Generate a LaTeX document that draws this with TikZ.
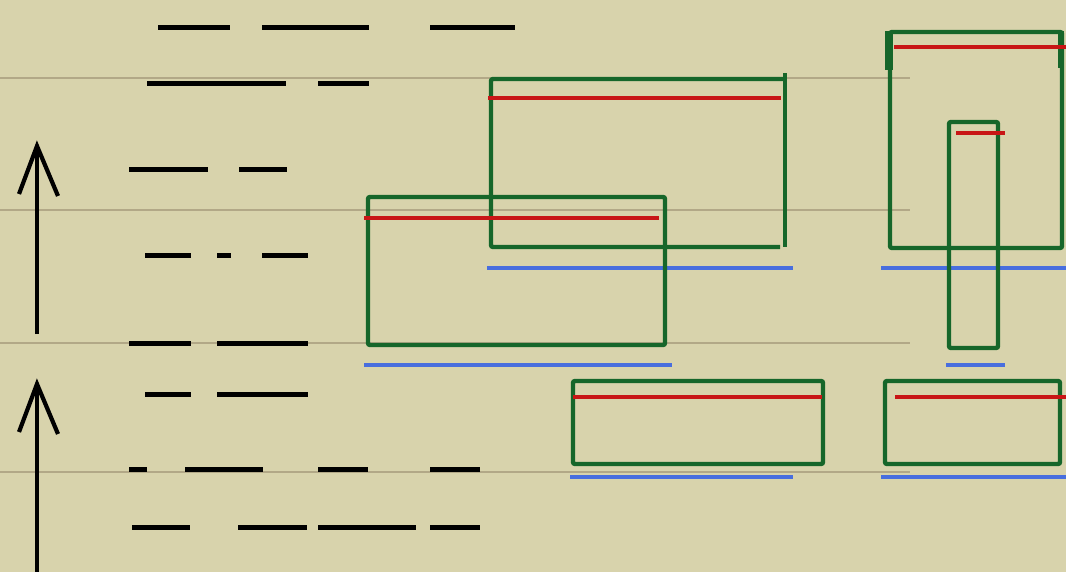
\documentclass[tikz,border=0pt]{standalone}
\usetikzlibrary{calc}
\definecolor{bg}{RGB}{216,211,172}
\definecolor{guide}{RGB}{178,168,135}
\definecolor{boxgreen}{RGB}{22,102,42}
\definecolor{topred}{RGB}{200,22,22}
\definecolor{baseblue}{RGB}{72,110,222}
\tikzset{
  guideline/.style={draw=guide, line width=1.8pt},
  dashseg/.style={draw=black, line width=5pt},
  arrowline/.style={draw=black, line width=4.2pt, line join=miter},
  gbox/.style={draw=boxgreen, line width=4.4pt, rounded corners=2pt},
  redline/.style={draw=topred, line width=4.4pt},
  blueline/.style={draw=baseblue, line width=4.4pt},
}
\begin{document}
\begin{tikzpicture}[x=1pt,y=-1pt]
\useasboundingbox (0,0) rectangle (1066,572);
\fill[bg] (0,0) rectangle (1066,572);
% guide lines
\foreach \yy in {78,210,343,472} \draw[guideline] (0,\yy) -- (910,\yy);
% dash rows
\draw[dashseg] (158,28)--(230,28) (262,28)--(369,28) (430,28)--(515,28);
\draw[dashseg] (147,84)--(286,84) (318,84)--(369,84);
\draw[dashseg] (129,170)--(208,170) (239,170)--(287,170);
\draw[dashseg] (145,256)--(191,256) (217,256)--(231,256) (262,256)--(308,256);
\draw[dashseg] (129,343)--(191,343) (217,343)--(308,343);
\draw[dashseg] (145,394)--(191,394) (217,394)--(308,394);
\draw[dashseg] (129,469)--(147,469) (185,469)--(263,469) (318,469)--(368,469) (430,469)--(480,469);
\draw[dashseg] (132,527)--(190,527) (238,527)--(307,527) (318,527)--(416,527) (430,527)--(480,527);
% arrows
\coordinate (t1) at (37,146);
\coordinate (t2) at (37,384);
\draw[arrowline] (37,334) -- (t1);
\draw[arrowline] (19,194) -- (t1) -- (58,196);
\draw[arrowline] (37,572) -- (t2);
\draw[arrowline] (19,432) -- (t2) -- (58,434);
% box A (upper middle)
\draw[gbox] (785,247) -- (785,73);
\draw[gbox] (780,247) -- (491,247) -- (491,79) -- (785,79);
\draw[redline] (488,98) -- (781,98);
\draw[blueline] (487,268) -- (793,268);
% box B
\draw[gbox] (368,197) rectangle (665,345);
\draw[redline] (364,218) -- (659,218);
\draw[blueline] (364,365) -- (672,365);
% box C
\draw[gbox] (573,381) rectangle (823,464);
\draw[redline] (573,397) -- (822,397);
\draw[blueline] (570,477) -- (793,477);
% box D
\draw[gbox] (885,381) rectangle (1060,464);
\draw[redline] (895,397) -- (1066,397);
\draw[blueline] (881,477) -- (1066,477);
% box E (upper right)
\draw[gbox] (890,248) rectangle (1062,32);
\fill[boxgreen] (885,31) rectangle (893,70);
\fill[boxgreen] (1058,31) rectangle (1064,68);
\draw[redline] (894,47) -- (1066,47);
\draw[blueline] (881,268) -- (1066,268);
% box F (narrow)
\draw[gbox] (949,122) rectangle (998,348);
\draw[redline] (956,133) -- (1005,133);
\draw[blueline] (946,365) -- (1005,365);
\end{tikzpicture}
\end{document}
